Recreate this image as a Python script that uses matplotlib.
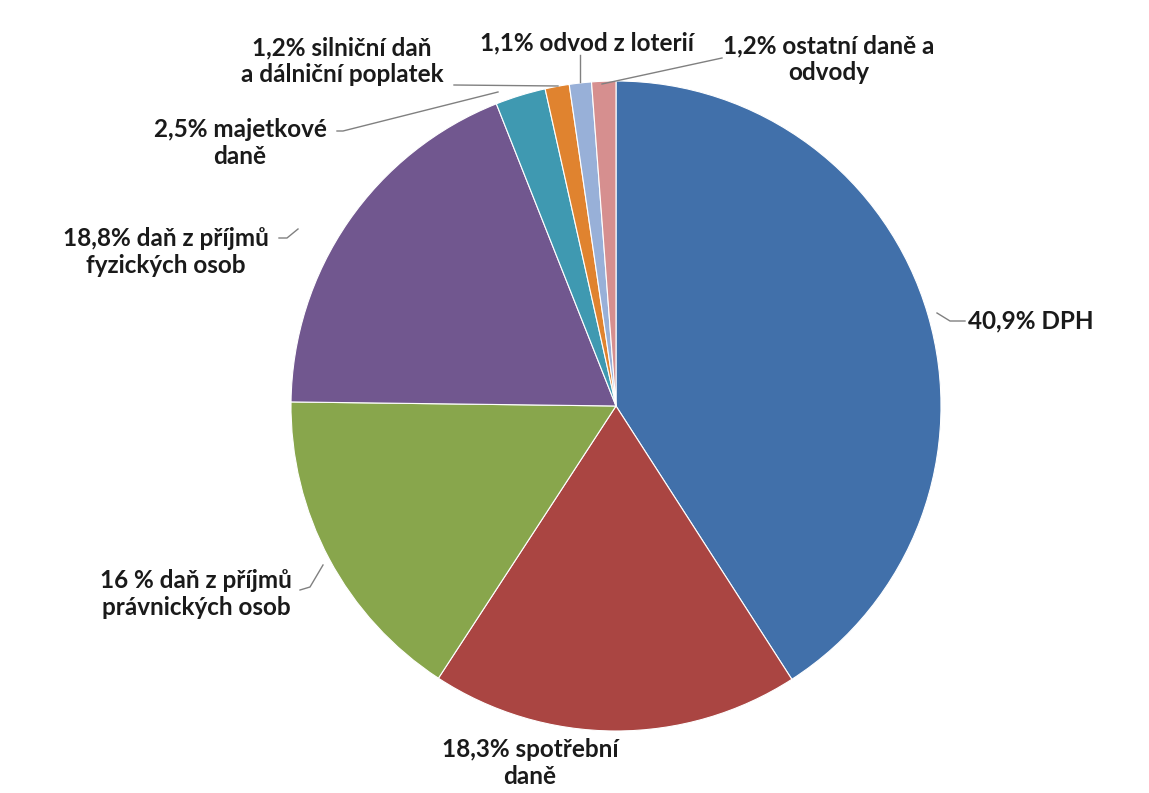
import matplotlib
matplotlib.use("Agg")
import matplotlib.pyplot as plt

# ---- data ----
categories = ["DPH", "spotřební daně", "daň z příjmů právnických osob",
              "daň z příjmů fyzických osob", "majetkové daně",
              "silniční daň a dálniční poplatek", "odvod z loterií",
              "ostatní daně a odvody"]
values = [40.9, 18.3, 16.0, 18.8, 2.5, 1.2, 1.1, 1.2]
labels = ["40,9% DPH", "18,3% spotřební\ndaně", "16 % daň z příjmů\nprávnických osob",
          "18,8% daň z příjmů\nfyzických osob", "2,5% majetkové\ndaně",
          "1,2% silniční daň\na dálniční poplatek", "1,1% odvod z loterií",
          "1,2% ostatní daně a\nodvody"]
colors = ["#4170AA", "#AA4542", "#88A64C", "#71578F", "#3F99B1", "#E0832F", "#98B0D8", "#D68F8F"]

W, H = 1149, 793
fig = plt.figure(figsize=(W / 100, H / 100), dpi=100)
ax = fig.add_axes([0, 0, 1, 1])

cx, cy, r = 616, H - 406, 325
wedges, _ = ax.pie(values, colors=colors, startangle=90, counterclock=False,
                   center=(cx, cy), radius=r, frame=True,
                   wedgeprops=dict(linewidth=0.8, edgecolor="white"))
ax.set_xlim(0, W)
ax.set_ylim(0, H)
ax.set_aspect("equal")
ax.axis("off")

# label positions (pixel coords from top-left), alignment, leader line points
label_pos = [(968, 321, "left"), (530, 763, "center"), (196, 594, "center"),
             (166, 252, "center"), (240, 143, "center"), (342, 61, "center"),
             (587, 43, "center"), (829, 59, "center")]
leaders = [[(937, 313), (950, 321), (965, 321)],
           None,
           [(300, 590), (310, 587), (323, 565)],
           [(279, 238), (287, 238), (298, 229)],
           [(337, 131), (343, 131), (498, 92)],
           [(454, 85), (558, 86)],
           [(580, 55), (580, 82)],
           [(722, 58), (602, 84)]]

for lab, (x, y, ha), ld in zip(labels, label_pos, leaders):
    ax.text(x, H - y, lab, ha=ha, va="center", fontsize=17.5, fontweight="bold",
            family="Lato", color="#1a1a1a", linespacing=1.2, multialignment="center")
    if ld:
        ax.plot([p[0] for p in ld], [H - p[1] for p in ld], color="#808080", lw=1)

fig.savefig("out.png", dpi=100, facecolor="white")
